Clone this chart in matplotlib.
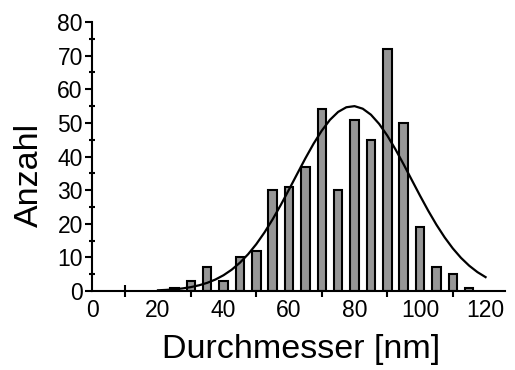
import matplotlib
matplotlib.use("Agg")
import matplotlib.pyplot as plt
from matplotlib.ticker import FixedLocator, MultipleLocator

plt.rcParams['font.family'] = ['Liberation Sans', 'DejaVu Sans']

# Histogram data (diameter bin centres in nm, counts)
diameters = [25, 30, 35, 40, 45, 50, 55, 60, 65, 70, 75, 80, 85, 90, 95, 100, 105, 110, 115]
counts = [1, 3, 7, 3, 10, 12, 30, 31, 37, 54, 30, 51, 45, 72, 50, 19, 7, 5, 1]

# Fit curve
fit_x = [20, 22.5, 25, 27.5, 30, 32.5, 35, 37.5, 40, 42.5, 45, 47.5, 50, 52.5, 55, 57.5,
         60, 62.5, 65, 67.5, 70, 72.5, 75, 77.5, 80, 82.5, 85, 87.5, 90, 92.5, 95, 97.5,
         100, 102.5, 105, 107.5, 110, 112.5, 115, 117.5, 120]
fit_y = [0.21, 0.33, 0.51, 0.77, 1.15, 1.69, 2.42, 3.40, 4.69, 6.34, 8.41, 10.93, 13.93,
         17.41, 21.33, 25.62, 30.19, 34.85, 39.47, 43.82, 47.70, 50.91, 53.27, 54.65, 54.98,
         54.22, 52.44, 49.71, 46.22, 42.12, 37.65, 32.98, 28.34, 23.87, 19.71, 15.96, 12.67,
         9.86, 7.53, 5.63, 4.13]

x_labels = [0, 20, 40, 60, 80, 100, 120]
x_ticks = [10, 30, 50, 70, 90, 110]
y_labels = [0, 10, 20, 30, 40, 50, 60, 70, 80]

fig = plt.figure(figsize=(5.15, 3.70), dpi=100)
ax = fig.add_axes([0.1796, 0.2135, 0.8014, 0.727])

ax.bar(diameters, counts, width=2.6, color='#969696', edgecolor='black', linewidth=1.5, zorder=2)
ax.plot(fit_x, fit_y, color='black', linewidth=1.6, zorder=3)

ax.set_xlim(0, 126)
ax.set_ylim(0, 80)

ax.spines['top'].set_visible(False)
ax.spines['right'].set_visible(False)
ax.spines['left'].set_linewidth(1.5)
ax.spines['bottom'].set_linewidth(1.5)
ax.spines['left'].set_bounds(0, 80)

ax.xaxis.set_major_locator(FixedLocator(x_labels))
ax.xaxis.set_minor_locator(FixedLocator(x_ticks))
ax.tick_params(axis='x', which='major', length=0, labelsize=16.5, pad=6)
ax.tick_params(axis='x', which='minor', direction='inout', length=8, width=1.5)

ax.yaxis.set_major_locator(FixedLocator(y_labels))
ax.yaxis.set_minor_locator(MultipleLocator(5))
ax.tick_params(axis='y', which='major', direction='out', length=5, width=1.5, labelsize=16.5, pad=2)
ax.tick_params(axis='y', which='minor', direction='inout', length=4, width=1.5)

fig.text(301 / 515, 1 - 358 / 370, 'Durchmesser [nm]', fontsize=24.5,
         ha='center', va='baseline')
fig.text(29 / 515, 1 - 175 / 370, 'Anzahl', fontsize=24.5, rotation=90,
         ha='center', va='center')

fig.savefig('out.png', dpi=100)
